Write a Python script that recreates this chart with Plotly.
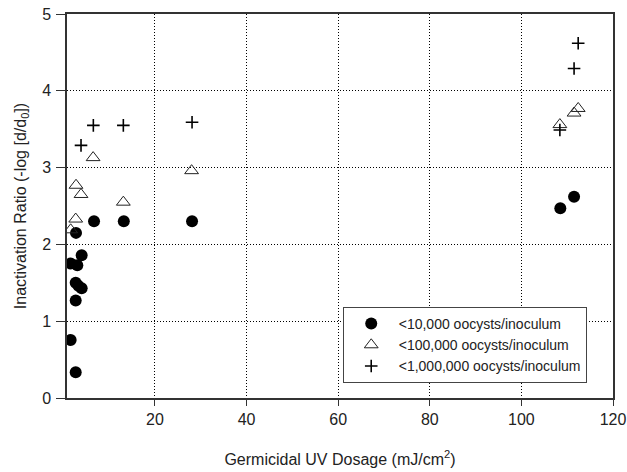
import plotly.graph_objects as go

# <10,000 oocysts/inoculum
x_low = [1.6, 1.6, 2.7, 2.7, 2.7, 2.77, 3.05, 3.3, 4.0, 4.0, 6.7, 13.2, 28.1, 108.5, 111.5]
y_low = [0.755, 1.75, 0.335, 1.27, 1.50, 2.15, 1.73, 1.46, 1.43, 1.86, 2.30, 2.30, 2.30, 2.47, 2.62]

# <100,000 oocysts/inoculum
x_mid = [1.6, 2.7, 2.77, 3.86, 6.5, 13.1, 28.0, 108.4, 111.5, 112.4]
y_mid = [2.19, 2.33, 2.77, 2.65, 3.13, 2.55, 2.96, 3.56, 3.71, 3.77]

# <1,000,000 oocysts/inoculum
x_high = [3.86, 6.55, 13.1, 28.1, 108.4, 111.5, 112.4]
y_high = [3.29, 3.55, 3.55, 3.59, 3.49, 4.29, 4.62]

x_ticks = [20, 40, 60, 80, 100, 120]
y_ticks = [0, 1, 2, 3, 4, 5]

names = ["<10,000 oocysts/inoculum", "<100,000 oocysts/inoculum", "<1,000,000 oocysts/inoculum"]

fig = go.Figure()
fig.add_trace(go.Scatter(x=x_low, y=y_low, mode="markers", name=names[0],
                         marker=dict(symbol="circle", size=12, color="black", line=dict(width=0))))
fig.add_trace(go.Scatter(x=x_mid, y=y_mid, mode="markers", name=names[1],
                         marker=dict(symbol="triangle-up-open", size=12, color="#222", line=dict(width=1))))
fig.add_trace(go.Scatter(x=x_high, y=y_high, mode="markers", name=names[2],
                         marker=dict(symbol="cross-thin-open", size=9, color="black", line=dict(width=1.6, color="black"))))

axis_common = dict(showline=True, linecolor="#333", linewidth=1.5, mirror=True,
                   ticks="outside", tickcolor="#333", automargin=False,
                   gridcolor="black", griddash="1px,2px", gridwidth=1, zeroline=False,
                   tickfont=dict(family="Liberation Sans, Arial", size=16, color="#222"),
                   title_font=dict(family="Liberation Sans, Arial", size=16, color="#222"))

fig.update_xaxes(range=[0.8, 120], tickvals=x_ticks, ticklen=6,
                 title_text="Germicidal UV Dosage (mJ/cm<sup>2</sup>)", title_standoff=27, **axis_common)
fig.update_yaxes(range=[0, 5], tickvals=y_ticks, ticklen=9, ticklabelstandoff=2,
                 title_text="Inactivation Ratio (-log [d/d<sub>0</sub>])", title_standoff=12, **axis_common)

fig.update_layout(
    width=627, height=472,
    margin=dict(l=67, r=14, t=14, b=74),
    plot_bgcolor="white", paper_bgcolor="white",
    legend=dict(x=0.505, y=0.237, xanchor="left", yanchor="top",
                bgcolor="white", bordercolor="#444", borderwidth=1,
                font=dict(family="Liberation Sans, Arial", size=14, color="#222"),
                itemwidth=45, tracegroupgap=0),
    showlegend=True,
)

fig.write_html("out.html", config={"displayModeBar": False},
               post_script="document.body.style.margin='0';")
